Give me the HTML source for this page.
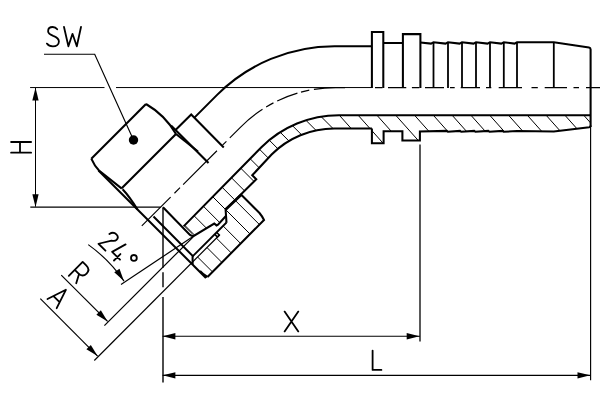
<!DOCTYPE html>
<html><head><meta charset="utf-8"><style>html,body{margin:0;padding:0;background:#fff;width:600px;height:400px;overflow:hidden}svg{display:block}</style></head>
<body><svg width="600" height="400" viewBox="0 0 600 400">
<defs>
<clipPath id="c1"><path d="M334,115.2 H590.6 V127.3 L553.8,131.6 H419.9 V140.5 H402.4 V131.3 H383.6 V143.3 H371.9 V128.6 H334 Z"/></clipPath>
<clipPath id="c2"><path d="M334,115.2 H339 A109.75,109.75 0 0 0 261.4,147.2 L183.6,226.4 L192.6,234.1 L193.75,236 L214.25,223.5 L216.5,225.4 L218,224.6 L225.9,216 L225.6,209.6 L256.25,179.25 L252.25,175.25 L271.6,154.5 A88.7,88.7 0 0 1 334.4,128.55 H334 Z"/></clipPath>
<clipPath id="c3"><path d="M241.25,194.75 L259.5,213 Q262,216 264,220 L207.5,277 Q203,274.5 200,271 L191.25,263.25 L219.4,235.1 L216.7,232.5 L226.5,222.5 L225.6,209.6 Z"/></clipPath>
</defs>
<rect width="600" height="400" fill="#fff"/>
<g clip-path="url(#c1)" stroke="#000" stroke-width="1.0"><line x1="306.93" y1="100" x2="360.50" y2="160"/><line x1="325.73" y1="100" x2="379.30" y2="160"/><line x1="344.53" y1="100" x2="398.10" y2="160"/><line x1="363.33" y1="100" x2="416.90" y2="160"/><line x1="382.13" y1="100" x2="435.70" y2="160"/><line x1="400.93" y1="100" x2="454.50" y2="160"/><line x1="419.73" y1="100" x2="473.30" y2="160"/><line x1="438.53" y1="100" x2="492.10" y2="160"/><line x1="457.33" y1="100" x2="510.90" y2="160"/><line x1="476.13" y1="100" x2="529.70" y2="160"/><line x1="494.93" y1="100" x2="548.50" y2="160"/><line x1="513.73" y1="100" x2="567.30" y2="160"/><line x1="532.53" y1="100" x2="586.10" y2="160"/><line x1="551.33" y1="100" x2="604.90" y2="160"/><line x1="570.13" y1="100" x2="623.70" y2="160"/><line x1="588.93" y1="100" x2="642.50" y2="160"/></g><g clip-path="url(#c2)" stroke="#000" stroke-width="1.0"><line x1="-78.25" y1="0" x2="321.75" y2="400"/><line x1="-59.40" y1="0" x2="340.60" y2="400"/><line x1="-40.55" y1="0" x2="359.45" y2="400"/><line x1="-21.70" y1="0" x2="378.30" y2="400"/><line x1="-2.85" y1="0" x2="397.15" y2="400"/><line x1="16.00" y1="0" x2="416.00" y2="400"/><line x1="34.85" y1="0" x2="434.85" y2="400"/><line x1="53.70" y1="0" x2="453.70" y2="400"/><line x1="72.55" y1="0" x2="472.55" y2="400"/><line x1="91.40" y1="0" x2="491.40" y2="400"/><line x1="110.25" y1="0" x2="510.25" y2="400"/><line x1="129.10" y1="0" x2="529.10" y2="400"/><line x1="147.95" y1="0" x2="547.95" y2="400"/><line x1="166.80" y1="0" x2="566.80" y2="400"/><line x1="185.65" y1="0" x2="585.65" y2="400"/><line x1="204.50" y1="0" x2="604.50" y2="400"/><line x1="223.35" y1="0" x2="623.35" y2="400"/></g><g clip-path="url(#c3)" stroke="#000" stroke-width="1.0"><line x1="-78.25" y1="0" x2="321.75" y2="400"/><line x1="-59.40" y1="0" x2="340.60" y2="400"/><line x1="-40.55" y1="0" x2="359.45" y2="400"/><line x1="-21.70" y1="0" x2="378.30" y2="400"/><line x1="-2.85" y1="0" x2="397.15" y2="400"/><line x1="16.00" y1="0" x2="416.00" y2="400"/><line x1="34.85" y1="0" x2="434.85" y2="400"/><line x1="53.70" y1="0" x2="453.70" y2="400"/></g>
<path d="M57.2,29.3 C56,27.6 54.6,27 52.7,27 C50,27 48.1,28.7 48.1,31.2 C48.1,33.7 50.2,34.6 53.2,35.8 C56.7,37.1 58.9,38.5 58.9,41.6 C58.9,44.5 56.4,46.4 52.9,46.4 C50.2,46.4 48.1,45.3 46.9,43.6" stroke="#000" stroke-width="1.8" fill="none" stroke-linecap="round" stroke-linejoin="round"/><path d="M64,27 L68.4,46.3 L72.5,33.8 L76.8,46.3 L81,27" stroke="#000" stroke-width="1.8" fill="none" stroke-linecap="round" stroke-linejoin="round"/><path d="M11.1,142 H31.1 M11.1,152.7 H31.1 M20,142 V152.7" stroke="#000" stroke-width="1.8" fill="none" stroke-linecap="round" stroke-linejoin="round"/><path d="M284.6,311.6 L298.3,331.4 M298.3,311.6 L284.6,331.4" stroke="#000" stroke-width="1.8" fill="none" stroke-linecap="round" stroke-linejoin="round"/><path d="M372.6,350.6 V369.9 H381.4" stroke="#000" stroke-width="1.8" fill="none" stroke-linecap="round" stroke-linejoin="round"/><path transform="translate(47.5,299) rotate(45)" d="M0,0 L6.5,-19.5 L13,0 M2.2,-6.3 H10.8" stroke="#000" stroke-width="1.8" fill="none" stroke-linecap="round" stroke-linejoin="round"/><path transform="translate(68.8,275.8) rotate(45)" d="M0,0 V-19.6 H5 C9,-19.6 11,-17.5 11,-14.2 C11,-11 9,-8.5 5,-8.5 H0 M6,-8.5 L10.5,0" stroke="#000" stroke-width="1.8" fill="none" stroke-linecap="round" stroke-linejoin="round"/><path transform="translate(98.5,243.75) rotate(45)" d="M0.8,-14.6 C1.5,-18 4,-19.3 6,-19.3 C8.5,-19.3 10,-17.5 10,-15.5 C10,-13.5 8.5,-12.5 7,-11.5 L0,0 H9.8 M19.6,-18.7 L15.4,-3.9 H26.5 M22.8,-8.2 V0.9" stroke="#000" stroke-width="1.8" fill="none" stroke-linecap="round" stroke-linejoin="round"/><circle cx="133.9" cy="257.9" r="2.9" stroke="#000" stroke-width="1.8" fill="none" stroke-linecap="round" stroke-linejoin="round"/><line x1="30.10" y1="87.55" x2="104.50" y2="87.55" stroke="#000" stroke-width="1.0" /><line x1="116.00" y1="87.55" x2="371.90" y2="87.55" stroke="#000" stroke-width="1.0" /><line x1="30.30" y1="207.20" x2="160.60" y2="207.20" stroke="#000" stroke-width="1.2" /><line x1="35.50" y1="88.00" x2="35.50" y2="206.60" stroke="#000" stroke-width="1.05" /><path d="M35.50,87.70 L38.65,100.40 L32.35,100.40 Z" fill="#000"/><path d="M35.50,207.00 L32.35,194.30 L38.65,194.30 Z" fill="#000"/><path d="M44,54.2 H94.7 L133.5,140" stroke="#000" stroke-width="1.15" fill="none"/><circle cx="133.5" cy="140" r="4.7" fill="#000"/><line x1="162.60" y1="336.25" x2="419.90" y2="336.25" stroke="#000" stroke-width="1.2" /><path d="M162.70,336.25 L175.40,333.10 L175.40,339.40 Z" fill="#000"/><path d="M419.40,336.25 L406.70,339.40 L406.70,333.10 Z" fill="#000"/><line x1="420.00" y1="144.50" x2="420.00" y2="341.40" stroke="#000" stroke-width="1.3" /><line x1="162.60" y1="375.30" x2="590.40" y2="375.30" stroke="#000" stroke-width="1.2" /><path d="M162.70,375.30 L175.40,372.15 L175.40,378.45 Z" fill="#000"/><path d="M590.20,375.30 L577.50,378.45 L577.50,372.15 Z" fill="#000"/><line x1="590.60" y1="126.00" x2="590.60" y2="380.30" stroke="#000" stroke-width="1.15" /><line x1="163.00" y1="207.50" x2="163.00" y2="267.70" stroke="#000" stroke-width="1.4" /><line x1="163.00" y1="272.20" x2="163.00" y2="287.20" stroke="#000" stroke-width="1.4" /><line x1="163.00" y1="297.00" x2="163.00" y2="382.40" stroke="#000" stroke-width="1.4" /><line x1="40.30" y1="298.60" x2="97.60" y2="356.10" stroke="#000" stroke-width="1.2" /><path d="M97.60,356.10 L86.39,349.35 L90.85,344.89 Z" fill="#000"/><line x1="94.30" y1="360.50" x2="219.50" y2="235.00" stroke="#000" stroke-width="1.2" /><line x1="61.25" y1="275.10" x2="107.60" y2="321.40" stroke="#000" stroke-width="1.2" /><path d="M107.60,321.40 L96.39,314.65 L100.85,310.19 Z" fill="#000"/><line x1="104.40" y1="325.70" x2="193.75" y2="236.30" stroke="#000" stroke-width="1.2" /><path d="M88.25,244.6 A147.5,147.5 0 0 1 124,281.1" stroke="#000" stroke-width="1.15" fill="none"/><path d="M123.90,281.00 L114.26,272.15 L119.51,268.67 Z" fill="#000"/><line x1="121.00" y1="284.60" x2="193.75" y2="236.00" stroke="#000" stroke-width="1.2" /><path d="M375,87.55 H382.5 M388,87.55 H406.25 M411.9,87.55 H419.4 M425,87.55 H444 M450,87.55 H454.7 M460.7,87.55 H480 M486,87.55 H491.3 M498.7,87.55 H522 M531.5,87.55 H537.8 M544.7,87.55 H567 M573.5,87.55 H579 M586,87.55 H600" stroke="#000" stroke-width="1.15" fill="none"/><path d="M345,87.55 H335.7 A134.1,134.1 0 0 0 240.88,126.83 L141.8,225.9" stroke="#000" stroke-width="1.15" fill="none" stroke-dasharray="31.2 4.7 8.5 3.7 21.7 4.2 8.4 4.3 43.5 4.8 5.5 7.9 47.8 4.4 7.9 5.4 50 10"/><path d="M371.9,46.3 H334.5 A166,166 0 0 0 217.1,94.9 L194.4,117.6" stroke="#000" stroke-width="2.05" fill="none" /><path d="M371.9,88 V32 H383.3 V88 M383.3,42.9 H402.9 M402.9,88 V34.1 H420.4 V88" stroke="#000" stroke-width="2.05" fill="none" /><path d="M420.4,42.6 L431.0,43.6 L433.5,42.3 L445.5,43.6 L448,42.3 L459.5,43.6 L462,42.3 L473.5,43.6 L476,42.3 L487.5,43.6 L490,42.3 L501.3,43.6 L503.8,42.3 L514.5,43.6 L517,42.3 H553.8 L589,47.5 Q590.6,47.8 590.6,49.5 V127" stroke="#000" stroke-width="2.05" fill="none" /><path d="M433.5,42.6 V88" stroke="#000" stroke-width="1.8" fill="none" /><path d="M448,42.6 V88" stroke="#000" stroke-width="1.8" fill="none" /><path d="M462,42.6 V88" stroke="#000" stroke-width="1.8" fill="none" /><path d="M476,42.6 V88" stroke="#000" stroke-width="1.8" fill="none" /><path d="M490,42.6 V88" stroke="#000" stroke-width="1.8" fill="none" /><path d="M503.8,42.6 V88" stroke="#000" stroke-width="1.8" fill="none" /><path d="M517,42.6 V88" stroke="#000" stroke-width="1.8" fill="none" /><path d="M553.8,42.6 V88" stroke="#000" stroke-width="1.8" fill="none" /><path d="M175.5,130 L191.2,114.5 L223.75,147.5" stroke="#000" stroke-width="2.05" fill="none" /><path d="M146,104 L91.3,158.7" stroke="#000" stroke-width="2.05" fill="none" /><path d="M91.3,158.7 Q94.5,166 99,170.5 L121.8,188.6" stroke="#000" stroke-width="2.05" fill="none" /><path d="M98.5,170.5 L206,278" stroke="#000" stroke-width="2.05" fill="none" /><path d="M122.6,189.2 Q129.5,196.5 137.5,209.5" stroke="#000" stroke-width="2.05" fill="none" /><path d="M146,104 Q165,115 176,134" stroke="#000" stroke-width="2.05" fill="none" /><path d="M171,125.5 L208.5,163" stroke="#000" stroke-width="2.05" fill="none" /><path d="M176,134 Q186,142 198,151.5" stroke="#000" stroke-width="2.05" fill="none" /><path d="M121.7,188.3 L176,134" stroke="#000" stroke-width="2.05" fill="none" /><path d="M590.6,115.2 H339 A109.75,109.75 0 0 0 261.4,147.2 L183.6,226.4" stroke="#000" stroke-width="2.05" fill="none" /><path d="M371.9,128.6 V143.3 H383.6 V131.3 H402.4 V140.5 H419.9 V131.4 L446.7,130.9 L447.9,131.8 L460,130.9 L461.2,131.8 L474.2,130.9 L475.4,131.8 L488.3,130.9 L489.5,131.8 L502.5,130.9 L503.7,131.8 L517,131.1 L553.8,131.4 L589.2,127.3 Q590.6,127 590.6,125.5" stroke="#000" stroke-width="2.05" fill="none" /><path d="M371.9,128.55 H334.4 A88.7,88.7 0 0 0 271.6,154.5 L252.25,175.25 L256.25,179.25 L225.6,209.6 L226.5,222.8" stroke="#000" stroke-width="2.05" fill="none" /><path d="M241.5,194.5 L225.6,209.6" stroke="#000" stroke-width="2.7" fill="none" /><path d="M241.25,194.75 L259.5,213 Q262,216 264,220 L207.5,277" stroke="#000" stroke-width="2.05" fill="none" /><path d="M207.5,277 Q203,274.5 200,271" stroke="#000" stroke-width="2.05" fill="none" /><path d="M163,207.3 L190,234.9 Q191.5,236 193.75,236 L214.25,223.5 L216.5,225.4 L218,224.6 L225.9,216" stroke="#000" stroke-width="2.05" fill="none" /><line x1="185.00" y1="226.70" x2="192.60" y2="234.10" stroke="#000" stroke-width="0.9" /><path d="M153.5,216.5 L192.6,255.8 V264.6" stroke="#000" stroke-width="2.05" fill="none" /><path d="M226.5,222.5 L192.6,256.4" stroke="#000" stroke-width="1.8" fill="none" /><path d="M216.7,232.5 L219.3,235 L217.4,237 L214.9,234.4" stroke="#000" stroke-width="1.6" fill="none" />
</svg></body></html>
